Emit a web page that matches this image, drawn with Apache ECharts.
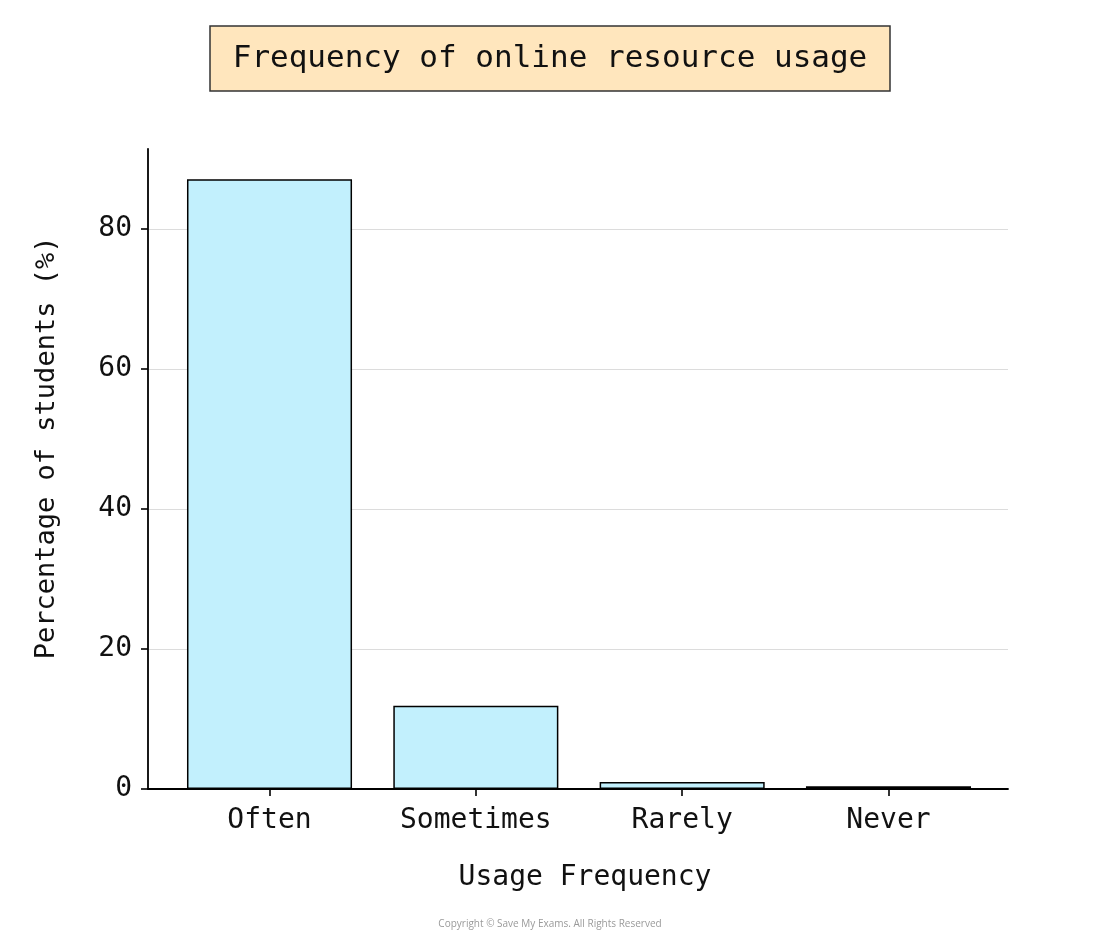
<!DOCTYPE html>
<html>
<head>
<meta charset="utf-8">
<script src="https://cdn.jsdelivr.net/npm/echarts@6/dist/echarts.min.js"></script>
<style>
html,body{margin:0;padding:0;background:#fff;}
#chart{width:1100px;height:934px;}
</style>
</head>
<body>
<div id="chart"></div>
<script>
const categories = ['Often', 'Sometimes', 'Rarely', 'Never'];
const percentages = [87.1, 11.9, 1.0, 0.4];
const yTicks = [0, 20, 40, 60, 80];
const titleText = 'Frequency of online resource usage';
const xAxisTitle = 'Usage Frequency';
const yAxisTitle = 'Percentage of students (%)';
const copyrightText = 'Copyright \u00a9 Save My Exams. All Rights Reserved';

const FONT = '"DejaVu Sans Mono", monospace';
const yMax = 91.45;

const chart = echarts.init(document.getElementById('chart'), null, {renderer: 'canvas'});
chart.setOption({
  backgroundColor: '#ffffff',
  animation: false,
  title: [
    {
      text: titleText,
      left: 'center',
      top: 26,
      backgroundColor: '#ffe6bd',
      borderColor: '#333333',
      borderWidth: 1.5,
      padding: [17, 23],
      textStyle: {fontFamily: FONT, fontSize: 31, fontWeight: 'normal', color: '#111111'}
    },
    {
      text: copyrightText,
      left: 'center',
      top: 919,
      padding: 0,
      textStyle: {fontFamily: '"Open Sans", sans-serif', fontSize: 10, fontWeight: 'normal', color: '#9a9a9a'}
    }
  ],
  grid: [
    {left: 166.35, right: 108.35, top: 148.8, bottom: 145, containLabel: false},
    {left: 148, right: 92, top: 148.8, bottom: 145, containLabel: false}
  ],
  xAxis: [
    {
      type: 'category',
      gridIndex: 0,
      data: categories,
      axisLine: {show: false},
      axisTick: {show: true, alignWithLabel: true, length: 7, lineStyle: {color: '#000', width: 1.6}},
      axisLabel: {fontFamily: FONT, fontSize: 28, color: '#111', margin: 18},
      splitLine: {show: false}
    },
    {
      type: 'value',
      gridIndex: 1,
      min: -0.59,
      max: 3.59,
      name: xAxisTitle,
      nameLocation: 'middle',
      nameGap: 75,
      nameTextStyle: {fontFamily: FONT, fontSize: 28, color: '#111', padding: [0, 0, 0, 14]},
      axisLine: {show: true, onZero: false, lineStyle: {color: '#000', width: 1.8}},
      axisTick: {show: false},
      axisLabel: {show: false},
      splitLine: {show: false}
    }
  ],
  yAxis: [
    {
      type: 'value',
      gridIndex: 0,
      min: 0,
      max: yMax,
      show: false,
      splitLine: {show: false}
    },
    {
      type: 'value',
      gridIndex: 1,
      min: 0,
      max: yMax,
      interval: 20,
      name: yAxisTitle,
      nameLocation: 'middle',
      nameGap: 88,
      nameTextStyle: {fontFamily: FONT, fontSize: 27, color: '#111', padding: [0, 0, 0, 42]},
      axisLine: {show: true, onZero: false, lineStyle: {color: '#000', width: 1.8}},
      axisTick: {show: true, length: 7, customValues: yTicks, lineStyle: {color: '#000', width: 1.6}},
      axisLabel: {fontFamily: FONT, fontSize: 28, color: '#111', margin: 16, customValues: yTicks},
      splitLine: {show: true, showMinLine: false, lineStyle: {color: '#dcdcdc', width: 1}}
    }
  ],
  series: [
    {
      type: 'bar',
      xAxisIndex: 0,
      yAxisIndex: 0,
      data: percentages,
      barWidth: '80%',
      itemStyle: {color: '#c2f0fd', borderColor: '#000', borderWidth: 1.5},
      z: 3
    }
  ]
});
</script>
</body>
</html>
